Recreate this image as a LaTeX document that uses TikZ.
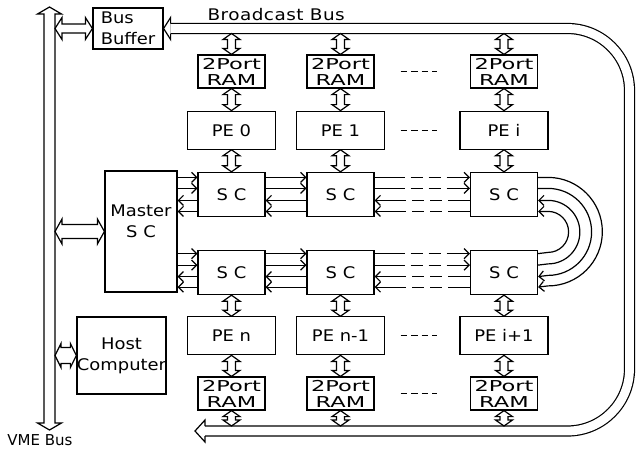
\documentclass[tikz,border=0pt]{standalone}
\usepackage{fontspec}
\setmainfont{DejaVu Sans}[FakeStretch=1.12]
\newfontfamily\ramfont{DejaVu Sans}[FakeStretch=1.5]
\newfontfamily\busfont{DejaVu Sans}[FakeStretch=1.15,LetterSpace=3]
\newfontfamily\vmefont{DejaVu Sans}
\usetikzlibrary{arrows.meta,positioning,calc}

\tikzset{
  shaft/.store in=\shaftw, headw/.store in=\headw, headl/.store in=\headl,
  shaft=4, headw=8.5, headl=6,
  % hollow block arrow, top to bottom
  varr/.style={to path={
    -- ($(\tikztostart)+(\headw,\headl)$) -- ($(\tikztostart)+(\shaftw,\headl)$)
    -- ($(\tikztotarget)+(\shaftw,-\headl)$) -- ($(\tikztotarget)+(\headw,-\headl)$)
    -- (\tikztotarget)
    -- ($(\tikztotarget)+(-\headw,-\headl)$) -- ($(\tikztotarget)+(-\shaftw,-\headl)$)
    -- ($(\tikztostart)+(-\shaftw,\headl)$) -- ($(\tikztostart)+(-\headw,\headl)$) -- cycle}},
  % hollow block arrow, left to right
  harr/.style={to path={
    -- ($(\tikztostart)+(\headl,\headw)$) -- ($(\tikztostart)+(\headl,\shaftw)$)
    -- ($(\tikztotarget)+(-\headl,\shaftw)$) -- ($(\tikztotarget)+(-\headl,\headw)$)
    -- (\tikztotarget)
    -- ($(\tikztotarget)+(-\headl,-\headw)$) -- ($(\tikztotarget)+(-\headl,-\shaftw)$)
    -- ($(\tikztostart)+(\headl,-\shaftw)$) -- ($(\tikztostart)+(\headl,-\headw)$) -- cycle}}
}

\begin{document}
\begin{tikzpicture}[x=1pt,y=-1pt,line width=1.2pt,node distance=22pt,
    txt/.style={font=\fontsize{16}{21}\selectfont},
    blk/.style={draw,txt,inner sep=0pt,align=center},
    ram/.style={blk,minimum width=67pt,minimum height=33pt,font=\ramfont\fontsize{15}{16}\selectfont},
    pe/.style={blk,minimum width=88pt,minimum height=38pt},
    sc/.style={blk,minimum width=67pt,minimum height=44pt},
    fw/.style={-{Straight Barb[length=5pt,width=10pt]}},
    bw/.style={{Straight Barb[length=5pt,width=10pt]}-},
    gap/.style={dash pattern=on 30pt off 6pt on 12pt off 6pt on 12pt off 6pt on 60pt},
    ell/.style={dash pattern=on 6.5pt off 4pt},
    dbus/.style={double,double distance=8.8pt}]
  \path[fill=white] (0,0) rectangle (637,448);

  % bus side
  \node[blk,minimum width=70pt,minimum height=41pt,align=left] (buf) at (128,28.5) {Bus\\Buffer};
  \node[blk,minimum width=72pt,minimum height=121pt,
    label={[txt,align=center,yshift=10pt]center:{Master\\S C}}] (ms) at (141,231.5) {};
  \node[blk,minimum width=87pt,minimum height=77pt] (host) at (121.5,355.5) {Host\\Computer};

  % upper ring
  \node[ram] (r0) at (231.5,71.5) {2Port\\RAM};
  \node[ram] (r1) at (340.5,71.5) {2Port\\RAM};
  \node[ram] (r2) at (504,71.5) {2Port\\RAM};
  \node[pe,below=of r0] (p0) {PE 0};
  \node[pe,below=of r1] (p1) {PE 1};
  \node[pe,below=of r2] (p2) {PE i};
  \node[sc,below=of p0] (s0) {S C};
  \node[sc,below=of p1] (s1) {S C};
  \node[sc,below=of p2] (s2) {S C};

  % lower ring
  \node[sc,below=33pt of s0] (t0) {S C};
  \node[sc,below=33pt of s1] (t1) {S C};
  \node[sc,below=33pt of s2] (t2) {S C};
  \node[pe,below=21pt of t0] (q0) {PE n};
  \node[pe,below=21pt of t1] (q1) {PE n-1};
  \node[pe,below=21pt of t2] (q2) {PE i+1};
  \node[ram,below=21pt of q0] (u0) {2Port\\RAM};
  \node[ram,below=21pt of q1] (u1) {2Port\\RAM};
  \node[ram,below=21pt of q2] (u2) {2Port\\RAM};

  \draw[ell] ($(r1.east)+(26,0)$) -- ($(r2.west)+(-32.5,0)$);
  \draw[ell] ($(p1.east)+(15.5,0)$) -- ($(p2.west)+(-22,0)$);
  \draw[ell] ($(q1.east)+(15.5,0)$) -- ($(q2.west)+(-22,0)$);
  \draw[ell] ($(u1.east)+(26,0)$) -- ($(u2.west)+(-32.5,0)$);

  % VME bus
  \coordinate (vt) at (49.5,7);
  \coordinate (vb) at (49.5,430);
  \coordinate (vr) at (55,0);
  \draw[varr,shaft=5.5,headw=12,headl=7] (vt) to (vb);
  \draw[harr,shaft=4.5,headw=11,headl=7] (buf.west -| vr) to (buf.west);
  \draw[harr,shaft=7,headw=12.5,headl=7] (ms.west -| vr) to (ms.west);
  \draw[harr,shaft=8,headw=12,headl=6] (host.west -| vr) to (host.west);
  \node[font=\vmefont\fontsize{15}{15}\selectfont] (vme) at (40,440) {VME Bus};

  % broadcast bus
  \coordinate (bi) at ($(buf.east)+(0,5)$);
  \coordinate (bend) at (195,431);
  \coordinate (bo) at ($(bend)+(0,-5)$);
  \coordinate (rc) at (629.5,431);
  \draw[dbus,rounded corners=62pt] ($(buf.east)+(7,0)$) -| (rc) -- ($(bend)+(10,0)$);
  \draw ($(buf.east)+(7,5)$) -- ++(0,6) -- (buf.east) -- ($(buf.east)+(7,-11)$) -- ++(0,6);
  \draw ($(bend)+(10,5)$) -- ++(0,6) -- (bend) -- ($(bend)+(10,-11)$) -- ++(0,6);
  \node[font=\busfont\fontsize{16}{16}\selectfont,anchor=base west,inner sep=0pt] (bbl) at (207,20.5) {Broadcast Bus};

  \foreach \c in {0,1,2}{
    \draw[varr] (r\c.north |- bi) to (r\c.north);
    \draw[varr] (r\c.south) to (p\c.north);
    \draw[varr] (p\c.south) to (s\c.north);
    \draw[varr] (t\c.south) to (q\c.north);
    \draw[varr] (q\c.south) to (u\c.north);
    \draw[varr] (u\c.south) to (u\c.south |- bo);
  }

  % switch links
  \foreach \dy/\tp in {17/fw,6/fw,-6/bw,-17/bw}{
    \draw[\tp] ($(s0.west -| ms.east)+(0,\dy pt)$) -- ($(s0.west)+(0,\dy pt)$);
    \draw[\tp] ($(s0.east)+(0,\dy pt)$) -- ($(s1.west)+(0,\dy pt)$);
    \draw[\tp,gap] ($(s1.east)+(0,\dy pt)$) -- ($(s2.west)+(0,\dy pt)$);
  }
  \foreach \dy/\tp in {19/fw,7.5/fw,-4/bw,-14.5/bw}{
    \draw[\tp] ($(t0.west -| ms.east)+(0,\dy pt)$) -- ($(t0.west)+(0,\dy pt)$);
    \draw[\tp] ($(t0.east)+(0,\dy pt)$) -- ($(t1.west)+(0,\dy pt)$);
    \draw[\tp,gap] ($(t1.east)+(0,\dy pt)$) -- ($(t2.west)+(0,\dy pt)$);
  }
  \draw[fw] ($(s2.east)+(0,17pt)$) -- ++(10,0) arc[start angle=-90,end angle=90,radius=54.25] -- ($(t2.east)+(0,-14.5pt)$);
  \draw[fw] ($(s2.east)+(0,6pt)$) -- ++(10,0) arc[start angle=-90,end angle=90,radius=43.5] -- ($(t2.east)+(0,-4pt)$);
  \draw[bw] ($(s2.east)+(0,-6pt)$) -- ++(10,0) arc[start angle=-90,end angle=90,radius=31.75] -- ($(t2.east)+(0,7.5pt)$);
  \draw[bw] ($(s2.east)+(0,-17pt)$) -- ++(10,0) arc[start angle=-90,end angle=90,radius=20.5] -- ($(t2.east)+(0,19pt)$);
\end{tikzpicture}
\end{document}
